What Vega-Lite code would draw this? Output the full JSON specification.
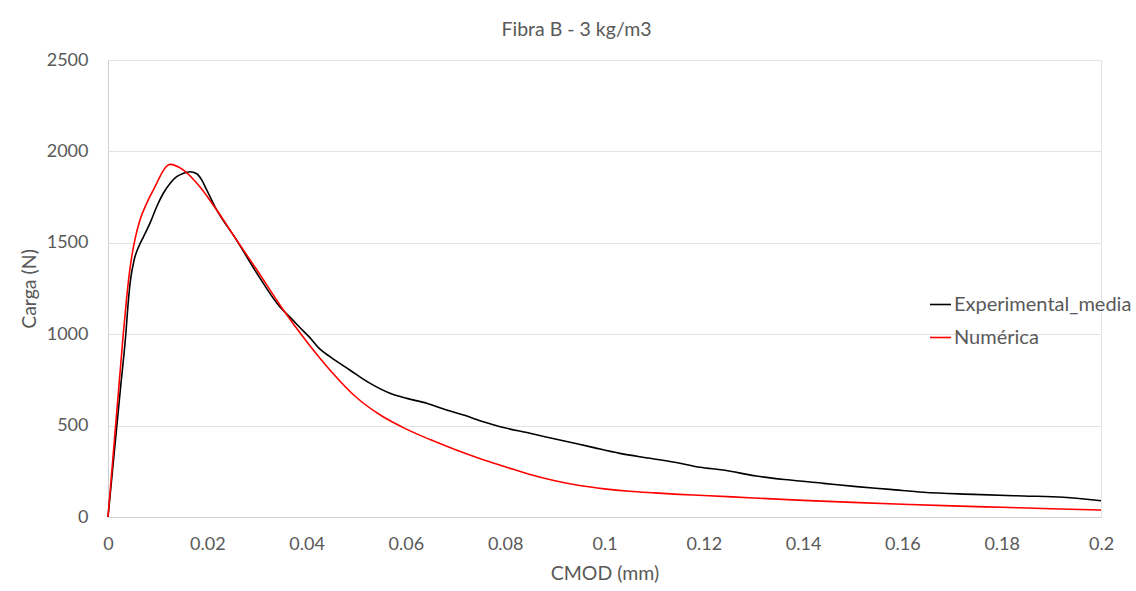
{
  "$schema": "https://vega.github.io/schema/vega-lite/v6.json",
  "autosize": {"type": "none"},
  "width": 993,
  "height": 457,
  "padding": {"left": 108, "top": 60, "right": 35, "bottom": 74},
  "background": "white",
  "title": {
    "text": "Fibra B - 3 kg/m3",
    "anchor": "middle",
    "dx": -28,
    "offset": 11,
    "font": "Lato",
    "fontSize": 19.5,
    "fontWeight": "normal",
    "color": "#595959"
  },
  "data": {
    "values": [
      {"cmod": 0, "carga": 0, "serie": "Experimental_media"},
      {"cmod": 0.0015, "carga": 420, "serie": "Experimental_media"},
      {"cmod": 0.0025, "carga": 700, "serie": "Experimental_media"},
      {"cmod": 0.0036, "carga": 1005, "serie": "Experimental_media"},
      {"cmod": 0.004, "carga": 1150, "serie": "Experimental_media"},
      {"cmod": 0.0045, "carga": 1290, "serie": "Experimental_media"},
      {"cmod": 0.0053, "carga": 1410, "serie": "Experimental_media"},
      {"cmod": 0.0062, "carga": 1480, "serie": "Experimental_media"},
      {"cmod": 0.0071, "carga": 1530, "serie": "Experimental_media"},
      {"cmod": 0.0085, "carga": 1610, "serie": "Experimental_media"},
      {"cmod": 0.0098, "carga": 1697, "serie": "Experimental_media"},
      {"cmod": 0.01114, "carga": 1771, "serie": "Experimental_media"},
      {"cmod": 0.01249, "carga": 1825, "serie": "Experimental_media"},
      {"cmod": 0.01383, "carga": 1862, "serie": "Experimental_media"},
      {"cmod": 0.01517, "carga": 1880, "serie": "Experimental_media"},
      {"cmod": 0.01652, "carga": 1889, "serie": "Experimental_media"},
      {"cmod": 0.01786, "carga": 1878, "serie": "Experimental_media"},
      {"cmod": 0.01887, "carga": 1844, "serie": "Experimental_media"},
      {"cmod": 0.01988, "carga": 1789, "serie": "Experimental_media"},
      {"cmod": 0.02155, "carga": 1697, "serie": "Experimental_media"},
      {"cmod": 0.0259, "carga": 1515, "serie": "Experimental_media"},
      {"cmod": 0.03, "carga": 1333, "serie": "Experimental_media"},
      {"cmod": 0.0346, "carga": 1150, "serie": "Experimental_media"},
      {"cmod": 0.0367, "carga": 1092, "serie": "Experimental_media"},
      {"cmod": 0.0387, "carga": 1035, "serie": "Experimental_media"},
      {"cmod": 0.0407, "carga": 980, "serie": "Experimental_media"},
      {"cmod": 0.0427, "carga": 918, "serie": "Experimental_media"},
      {"cmod": 0.0447, "carga": 877, "serie": "Experimental_media"},
      {"cmod": 0.0487, "carga": 804, "serie": "Experimental_media"},
      {"cmod": 0.0528, "carga": 731, "serie": "Experimental_media"},
      {"cmod": 0.0568, "carga": 677, "serie": "Experimental_media"},
      {"cmod": 0.0602, "carga": 649, "serie": "Experimental_media"},
      {"cmod": 0.0642, "carga": 622, "serie": "Experimental_media"},
      {"cmod": 0.0682, "carga": 585, "serie": "Experimental_media"},
      {"cmod": 0.0716, "carga": 558, "serie": "Experimental_media"},
      {"cmod": 0.0756, "carga": 521, "serie": "Experimental_media"},
      {"cmod": 0.079, "carga": 494, "serie": "Experimental_media"},
      {"cmod": 0.085, "carga": 458, "serie": "Experimental_media"},
      {"cmod": 0.091, "carga": 421, "serie": "Experimental_media"},
      {"cmod": 0.097, "carga": 385, "serie": "Experimental_media"},
      {"cmod": 0.1031, "carga": 348, "serie": "Experimental_media"},
      {"cmod": 0.1092, "carga": 321, "serie": "Experimental_media"},
      {"cmod": 0.1152, "carga": 294, "serie": "Experimental_media"},
      {"cmod": 0.1192, "carga": 272, "serie": "Experimental_media"},
      {"cmod": 0.1239, "carga": 257, "serie": "Experimental_media"},
      {"cmod": 0.1306, "carga": 224, "serie": "Experimental_media"},
      {"cmod": 0.1374, "carga": 202, "serie": "Experimental_media"},
      {"cmod": 0.1441, "carga": 184, "serie": "Experimental_media"},
      {"cmod": 0.1508, "carga": 166, "serie": "Experimental_media"},
      {"cmod": 0.1575, "carga": 151, "serie": "Experimental_media"},
      {"cmod": 0.1642, "carga": 135, "serie": "Experimental_media"},
      {"cmod": 0.1743, "carga": 124, "serie": "Experimental_media"},
      {"cmod": 0.1844, "carga": 115, "serie": "Experimental_media"},
      {"cmod": 0.1924, "carga": 108, "serie": "Experimental_media"},
      {"cmod": 0.2, "carga": 89, "serie": "Experimental_media"},
      {"cmod": 0, "carga": 0, "serie": "Numérica"},
      {"cmod": 0.001, "carga": 325, "serie": "Numérica"},
      {"cmod": 0.002, "carga": 650, "serie": "Numérica"},
      {"cmod": 0.00309, "carga": 1005, "serie": "Numérica"},
      {"cmod": 0.00376, "carga": 1200, "serie": "Numérica"},
      {"cmod": 0.00443, "carga": 1360, "serie": "Numérica"},
      {"cmod": 0.00544, "carga": 1520, "serie": "Numérica"},
      {"cmod": 0.00644, "carga": 1625, "serie": "Numérica"},
      {"cmod": 0.00779, "carga": 1716, "serie": "Numérica"},
      {"cmod": 0.00947, "carga": 1807, "serie": "Numérica"},
      {"cmod": 0.01081, "carga": 1880, "serie": "Numérica"},
      {"cmod": 0.01168, "carga": 1916, "serie": "Numérica"},
      {"cmod": 0.01249, "carga": 1929, "serie": "Numérica"},
      {"cmod": 0.0152, "carga": 1898, "serie": "Numérica"},
      {"cmod": 0.0185, "carga": 1807, "serie": "Numérica"},
      {"cmod": 0.0219, "carga": 1679, "serie": "Numérica"},
      {"cmod": 0.0259, "carga": 1515, "serie": "Numérica"},
      {"cmod": 0.03, "carga": 1351, "serie": "Numérica"},
      {"cmod": 0.035, "carga": 1145, "serie": "Numérica"},
      {"cmod": 0.04, "carga": 960, "serie": "Numérica"},
      {"cmod": 0.045, "carga": 795, "serie": "Numérica"},
      {"cmod": 0.05, "carga": 655, "serie": "Numérica"},
      {"cmod": 0.055, "carga": 555, "serie": "Numérica"},
      {"cmod": 0.06, "carga": 482, "serie": "Numérica"},
      {"cmod": 0.065, "carga": 422, "serie": "Numérica"},
      {"cmod": 0.07, "carga": 368, "serie": "Numérica"},
      {"cmod": 0.075, "carga": 319, "serie": "Numérica"},
      {"cmod": 0.08, "carga": 275, "serie": "Numérica"},
      {"cmod": 0.085, "carga": 232, "serie": "Numérica"},
      {"cmod": 0.09, "carga": 198, "serie": "Numérica"},
      {"cmod": 0.095, "carga": 172, "serie": "Numérica"},
      {"cmod": 0.1, "carga": 154, "serie": "Numérica"},
      {"cmod": 0.105, "carga": 141, "serie": "Numérica"},
      {"cmod": 0.11, "carga": 132, "serie": "Numérica"},
      {"cmod": 0.115, "carga": 124, "serie": "Numérica"},
      {"cmod": 0.12, "carga": 118, "serie": "Numérica"},
      {"cmod": 0.13, "carga": 104, "serie": "Numérica"},
      {"cmod": 0.14, "carga": 91, "serie": "Numérica"},
      {"cmod": 0.15, "carga": 80, "serie": "Numérica"},
      {"cmod": 0.16, "carga": 70, "serie": "Numérica"},
      {"cmod": 0.17, "carga": 61, "serie": "Numérica"},
      {"cmod": 0.18, "carga": 53, "serie": "Numérica"},
      {"cmod": 0.19, "carga": 45, "serie": "Numérica"},
      {"cmod": 0.2, "carga": 38, "serie": "Numérica"}
    ]
  },
  "mark": {"type": "line", "strokeWidth": 1.6, "interpolate": "monotone"},
  "encoding": {
    "x": {
      "field": "cmod",
      "type": "quantitative",
      "title": "CMOD (mm)",
      "scale": {"domain": [0, 0.2], "nice": false, "zero": true},
      "axis": {
        "values": [0, 0.02, 0.04, 0.06, 0.08, 0.1, 0.12, 0.14, 0.16, 0.18, 0.2],
        "format": ".2~f",
        "grid": false,
        "ticks": false,
        "labelFlush": false,
        "labelPadding": 18,
        "titlePadding": 11
      }
    },
    "y": {
      "field": "carga",
      "type": "quantitative",
      "title": "Carga (N)",
      "scale": {"domain": [0, 2500], "nice": false},
      "axis": {
        "values": [0, 500, 1000, 1500, 2000, 2500],
        "format": "d",
        "grid": true,
        "ticks": false,
        "labelFlush": false,
        "labelPadding": 20,
        "titlePadding": 7
      }
    },
    "color": {
      "field": "serie",
      "type": "nominal",
      "scale": {"domain": ["Experimental_media", "Numérica"], "range": ["#000000", "#ff0000"]},
      "legend": {
        "title": null,
        "orient": "none",
        "legendX": 821,
        "legendY": 233,
        "symbolType": "stroke",
        "symbolSize": 441,
        "symbolStrokeWidth": 1.6,
        "labelFont": "Lato",
        "labelFontSize": 20,
        "labelColor": "#595959",
        "labelLimit": 400,
        "labelOffset": 2,
        "rowPadding": 11
      }
    }
  },
  "config": {
    "view": {"stroke": "#e3e3e3", "strokeWidth": 1},
    "axis": {
      "labelFont": "Lato",
      "labelFontSize": 18,
      "labelColor": "#595959",
      "titleFont": "Lato",
      "titleFontSize": 19.5,
      "titleFontWeight": "normal",
      "titleColor": "#595959",
      "domainColor": "#d0d0d0",
      "gridColor": "#e3e3e3",
      "gridWidth": 1
    }
  }
}
